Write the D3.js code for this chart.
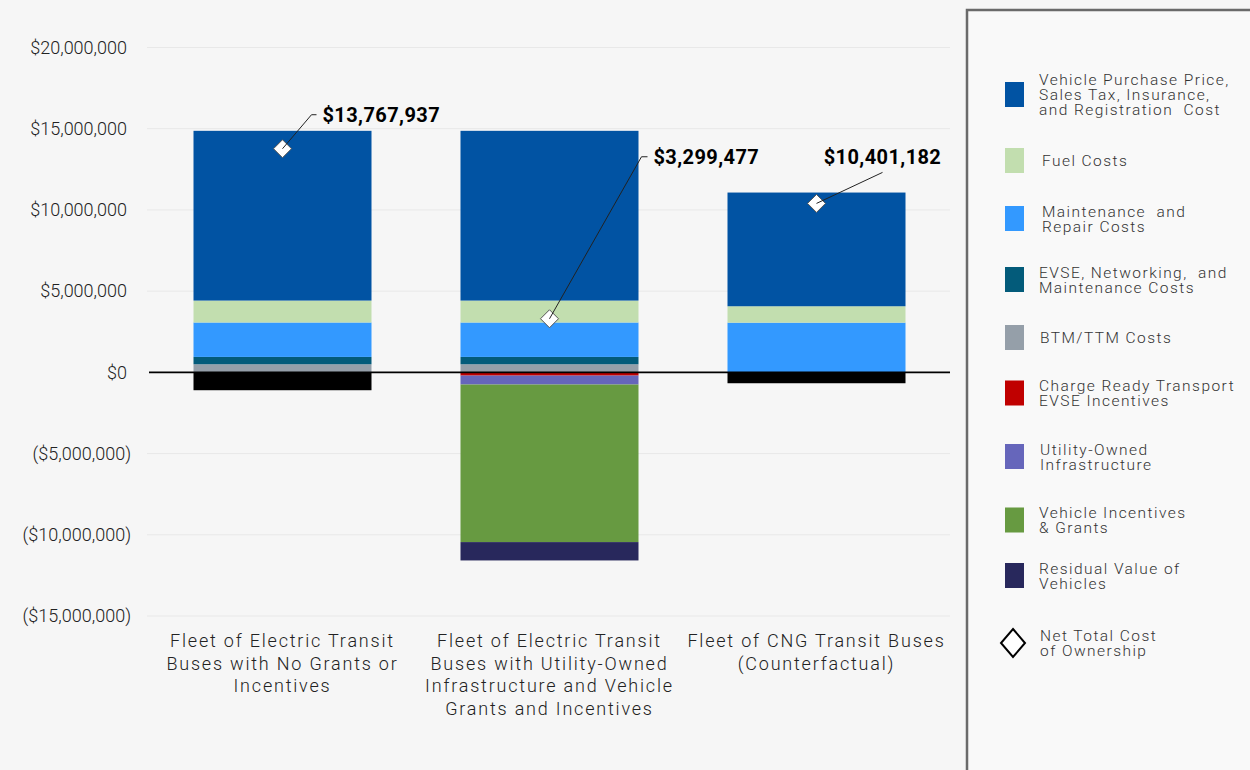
<!DOCTYPE html>
<html>
<head>
<meta charset="utf-8">
<script src="https://cdn.jsdelivr.net/npm/d3@7"></script>
<style>
  body { margin: 0; background: #f6f6f6; }
  svg { display: block; font-family: Roboto, "Noto Sans", sans-serif; }
</style>
</head>
<body>
<svg id="chart" width="1250" height="770"></svg>
<script>
// categories (multi-line labels)
const categories = [
  ["Fleet of Electric Transit", "Buses with No Grants or", "Incentives"],
  ["Fleet of Electric Transit", "Buses with Utility-Owned", "Infrastructure and Vehicle", "Grants and Incentives"],
  ["Fleet of CNG Transit Buses", "(Counterfactual)"]
];

// series values, one per category (USD)
const vehiclePurchase   = [10450000, 10450000, 7000000];
const fuelCosts         = [1350000, 1350000, 1010000];
const maintenanceRepair = [2120000, 2120000, 3060000];
const evseNetworking    = [450000, 450000, 0];
const btmTtm            = [500000, 500000, 0];
const chargeReady       = [0, -200000, 0];
const utilityOwned      = [0, -550000, 0];
const vehicleIncentives = [0, -9700000, 0];
const residualValue     = [-1100000, -1130000, -670000];
const netTotal          = [13767937, 3299477, 10401182];

const yTicks = [20000000, 15000000, 10000000, 5000000, 0, -5000000, -10000000, -15000000];

// series meta (stack order: first key sits next to zero)
const series = [
  {key: "btm",   label: ["BTM/TTM Costs"], values: btmTtm, color: "#959fa9"},
  {key: "evse",  label: ["EVSE, Networking,  and", "Maintenance Costs"], values: evseNetworking, color: "#035b7a"},
  {key: "maint", label: ["Maintenance  and", "Repair Costs"], values: maintenanceRepair, color: "#3399ff"},
  {key: "fuel",  label: ["Fuel Costs"], values: fuelCosts, color: "#c2deaf"},
  {key: "veh",   label: ["Vehicle Purchase Price,", "Sales Tax, Insurance,", "and Registration  Cost"], values: vehiclePurchase, color: "#0153a3"},
  {key: "crt",   label: ["Charge Ready Transport", "EVSE Incentives"], values: chargeReady, color: "#c00000"},
  {key: "util",  label: ["Utility-Owned", "Infrastructure"], values: utilityOwned, color: "#6666bb"},
  {key: "inc",   label: ["Vehicle Incentives", "& Grants"], values: vehicleIncentives, color: "#679a41"},
  {key: "res",   label: ["Residual Value of", "Vehicles"], values: residualValue, color: "#28285c"}
];
// residual value is drawn black on bars 1 and 3 in the original
const residualFill = ["#000000", "#28285c", "#000000"];
const legendOrder = ["veh", "fuel", "maint", "evse", "btm", "crt", "util", "inc", "res"];
// legend layout: item centres and text x
const legendY = [94.5, 160.5, 218.5, 279.5, 337.5, 393, 456.5, 520, 575.5, 643];
const legendTextX = [1039, 1042, 1042, 1039, 1040, 1039, 1040, 1039, 1039, 1040];

const svg = d3.select("#chart");
const W = 1250, H = 770;

svg.append("rect").attr("width", W).attr("height", H).attr("fill", "#f6f6f6");

const x = d3.scaleBand()
  .domain(d3.range(categories.length))
  .range([149, 950])
  .paddingInner(1 / 3)
  .paddingOuter(1 / 6);

const y = d3.scaleLinear()
  .domain([-15000000, 20000000])
  .range([616, 47.5]);

// gridlines
svg.append("g")
  .selectAll("line")
  .data(yTicks.filter(d => d !== 0))
  .join("line")
  .attr("x1", 147).attr("x2", 950)
  .attr("y1", d => y(d)).attr("y2", d => y(d))
  .attr("stroke", "#e8e8e8")
  .attr("stroke-width", 1);

// y axis
const fmt = d3.format(",");
const yAxis = svg.append("g")
  .attr("transform", "translate(149,0)")
  .call(d3.axisLeft(y).tickValues(yTicks).tickSize(0)
    .tickFormat(d => d < 0 ? "($" + fmt(-d) + ")" : "$" + fmt(d)));
yAxis.select(".domain").remove();
yAxis.selectAll("text")
  .attr("x", d => d < 0 ? -18 : -22)
  .attr("font-family", "Roboto, sans-serif")
  .attr("font-weight", 300)
  .attr("font-size", 18)
  .attr("fill", "#222");

// stacked bars
const table = categories.map((c, i) => {
  const row = {i};
  series.forEach(s => row[s.key] = s.values[i]);
  return row;
});
const stacked = d3.stack()
  .keys(series.map(s => s.key))
  .offset(d3.stackOffsetDiverging)(table);

svg.append("g")
  .selectAll("g")
  .data(stacked)
  .join("g")
  .each(function(layer, li) {
    const s = series[li];
    d3.select(this).selectAll("rect")
      .data(layer.filter(d => d[1] !== d[0]))
      .join("rect")
      .attr("x", d => x(d.data.i))
      .attr("width", x.bandwidth())
      .attr("y", d => y(Math.max(d[0], d[1])))
      .attr("height", d => Math.abs(y(d[0]) - y(d[1])))
      .attr("fill", d => s.key === "res" ? residualFill[d.data.i] : s.color);
  });

// zero line
svg.append("line")
  .attr("x1", 149).attr("x2", 950)
  .attr("y1", y(0)).attr("y2", y(0))
  .attr("stroke", "#000").attr("stroke-width", 1.6);

// net total markers with leader lines
const annot = [
  {dx: 29, dy: -34, tail: 5, anchor: "start"},
  {dx: 92, dy: -162, tail: 6, anchor: "start"},
  {dx: 66, dy: -31, tail: 0, anchor: "middle"}
];
const ann = svg.append("g");
netTotal.forEach((v, i) => {
  const cx = x(i) + x.bandwidth() / 2;
  const cy = y(v);
  const a = annot[i];
  const ex = cx + a.dx, ey = cy + a.dy;
  ann.append("path")
    .attr("d", `M${cx},${cy - 9}L${cx + 9},${cy}L${cx},${cy + 9}L${cx - 9},${cy}Z`)
    .attr("fill", "#fff").attr("stroke", "#555").attr("stroke-width", 1);
  ann.append("path")
    .attr("d", `M${cx},${cy}L${ex},${ey}L${ex + a.tail},${ey}`)
    .attr("fill", "none").attr("stroke", "#222").attr("stroke-width", 1);
  ann.append("text")
    .attr("x", a.anchor === "middle" ? ex : ex + a.tail + 6)
    .attr("y", a.anchor === "middle" ? ey - 8 : ey + 7)
    .attr("text-anchor", a.anchor)
    .attr("font-family", "Roboto, sans-serif")
    .attr("font-weight", 700)
    .attr("font-size", 20)
    .attr("letter-spacing", 0.4)
    .attr("fill", "#000")
    .text("$" + fmt(v));
});

// category labels
svg.append("g")
  .selectAll("text")
  .data(categories)
  .join("text")
  .attr("x", (d, i) => x(i) + x.bandwidth() / 2)
  .attr("y", 647)
  .attr("text-anchor", "middle")
  .attr("font-family", "Roboto, sans-serif")
  .attr("font-weight", 300)
  .attr("font-size", 18)
  .attr("letter-spacing", 1.8)
  .attr("fill", "#222")
  .each(function(lines) {
    d3.select(this).selectAll("tspan")
      .data(lines)
      .join("tspan")
      .attr("x", d3.select(this).attr("x"))
      .attr("dy", (d, j) => j === 0 ? 0 : 22.5)
      .text(d => d);
  });

// legend panel
const lg = svg.append("g");
lg.append("rect")
  .attr("x", 967).attr("y", 10).attr("width", 290).attr("height", 770)
  .attr("fill", "#f9f9f9").attr("stroke", "#6a6a6a").attr("stroke-width", 2.5);

const legendItems = legendOrder.map(k => series.find(s => s.key === k));

legendItems.forEach((s, i) => {
  const cy = legendY[i];
  lg.append("rect")
    .attr("x", 1005).attr("y", cy - 12.5)
    .attr("width", 19).attr("height", 25)
    .attr("fill", s.color);
  const t = lg.append("text")
    .attr("font-family", "Roboto, sans-serif")
    .attr("font-weight", 300)
    .attr("font-size", 15.5)
    .attr("letter-spacing", 1.45)
    .attr("fill", "#333")
    .attr("xml:space", "preserve");
  const top = cy - (s.label.length - 1) * 7.5 + 5.5;
  s.label.forEach((line, j) => {
    t.append("tspan").attr("x", legendTextX[i]).attr("y", top + j * 15).text(line);
  });
});

// net total legend entry
{
  const cy = legendY[9];
  lg.append("path")
    .attr("d", `M1013,${cy - 14}L1025,${cy}L1013,${cy + 14}L1001,${cy}Z`)
    .attr("fill", "#fff").attr("stroke", "#000").attr("stroke-width", 2);
  const t = lg.append("text")
    .attr("font-family", "Roboto, sans-serif")
    .attr("font-weight", 300)
    .attr("font-size", 15.5)
    .attr("letter-spacing", 1.45)
    .attr("fill", "#333");
  ["Net Total Cost", "of Ownership"].forEach((line, j) => {
    t.append("tspan").attr("x", legendTextX[9]).attr("y", cy - 2 + j * 15).text(line);
  });
}
</script>
</body>
</html>
